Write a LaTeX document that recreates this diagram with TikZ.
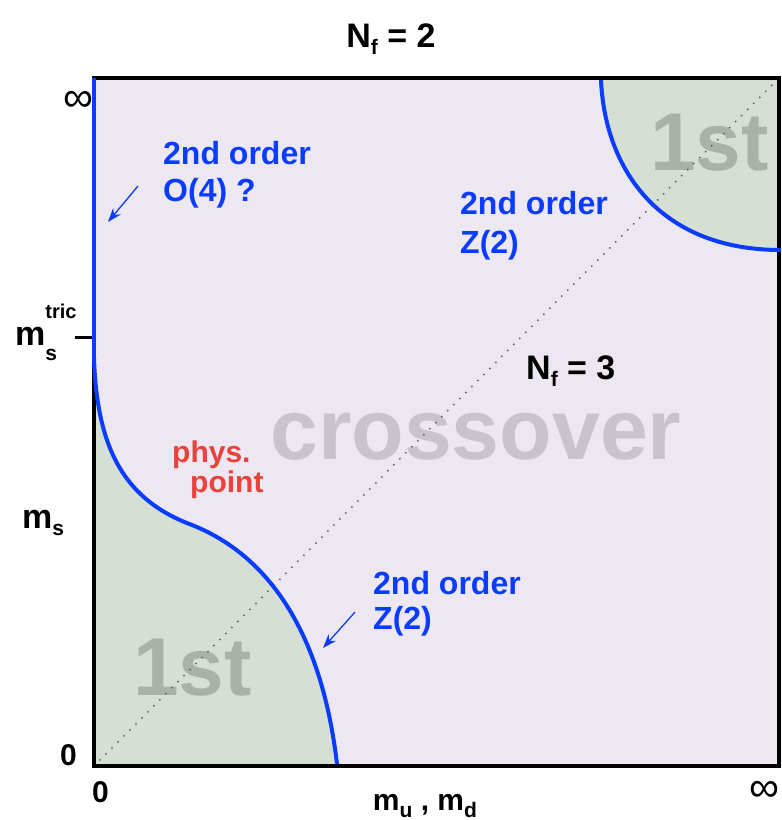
\documentclass[tikz,border=0pt]{standalone}
\usepackage{fontspec}
\setmainfont{Liberation Sans}
\usetikzlibrary{arrows.meta}
\definecolor{lav}{HTML}{ECE7F1}
\definecolor{grn}{HTML}{D5DFD3}
\definecolor{blu}{HTML}{0A3CFF}
\definecolor{rd}{HTML}{E8423A}
\definecolor{crs}{HTML}{C8C4CC}
\definecolor{frst}{HTML}{AAB2A8}
\newcommand\lo[1]{\raisebox{-7pt}{\fontsize{21}{21}\selectfont #1}}
\tikzset{
  lbl/.style  = {inner sep=0pt, font=\fontsize{30}{36}\selectfont\bfseries},
  nf/.style   = {lbl, font=\fontsize{34}{36}\selectfont\bfseries},
  inf/.style  = {lbl, font=\fontsize{42}{42}\selectfont},
  ord/.style  = {lbl, text=blu, align=left, anchor=north west},
  big/.style  = {inner sep=0pt, anchor=base west,
                 font=\fontsize{82}{82}\selectfont\bfseries},
  crit/.style = {line width=4pt, draw=blu},
  arr/.style  = {-{Stealth[length=14pt, width=10pt]}, line width=1.3pt, draw=blu},
  diag/.style = {line width=2pt, draw=black!65, line cap=round,
                 dash pattern=on 0pt off 8.5pt},
}

\begin{document}
\begin{tikzpicture}[x=1pt, y=-1pt]
  \useasboundingbox (0,0) rectangle (782,820);

  % ── corners of the mass plane
  \coordinate (ll)   at (94,766);
  \coordinate (ur)   at (779,78);
  \coordinate (ul)   at (94,78);
  \coordinate (tric) at (94,358);

  % ── regions
  \fill[lav] (ul) rectangle (779,766);
  \fill[grn] (tric) .. controls (97,450) and (125,500) .. (192,525)
                    .. controls (260,552) and (320,620) .. (337,766) -- (ll) -- cycle;
  \fill[grn] (601,78) .. controls (605,170) and (660,250) .. (779,250) -- (ur) -- cycle;

  % ── big region labels
  \node[big, text=frst] (lofirst) at (133,695) {1st};
  \node[big, text=frst] (hifirst) at (650,170) {1st};
  \node[big, text=crs, font=\fontsize{86}{86}\selectfont\bfseries] (cross) at (270,459) {crossover};

  % ── N_f = 3 diagonal
  \draw[diag] (ll) -- (ur);

  % ── frame
  \draw[line width=4pt] (ul) rectangle (779,766);
  \coordinate (mtick) at (94,337);
  \draw[line width=3pt] (mtick) -- ++(-19,0);

  % ── second order lines
  \draw[crit] (ul) -- (tric);
  \draw[crit] (tric) .. controls (97,450) and (125,500) .. (192,525)
                     .. controls (260,552) and (320,620) .. (337,764);
  \draw[crit] (601,80) .. controls (605,170) and (660,250) .. (781,250);

  % ── arrows onto the lines
  \coordinate (ofourtail) at (138,186);
  \coordinate (ofourtip)  at (108,222);
  \coordinate (ztwotail)  at (355,612);
  \coordinate (ztwotip)   at (323,648);
  \draw[arr] (ofourtail) -- (ofourtip);
  \draw[arr] (ztwotail) -- (ztwotip);

  % ── line labels
  \node[ord, font=\fontsize{32}{37}\selectfont\bfseries] (ofour)  at (163,141) {2nd order\\O(4) ?};
  \node[ord, font=\fontsize{32}{39}\selectfont\bfseries] (ztwohi) at (460,191) {2nd order\\Z(2)};
  \node[ord, font=\fontsize{32}{35}\selectfont\bfseries] (ztwolo) at (373,571) {2nd order\\Z(2)};
  \node[lbl, text=rd, anchor=base west] (phys)  at (172,462) {phys.};
  \node[lbl, text=rd, anchor=base west] (point) at (190,492) {point};
  \node[nf, anchor=base west] (nfthree) at (526,379) {N\lo{f} = 3};
  \node[nf, anchor=base] (nftwo) at (391,47) {N\lo{f} = 2};

  % ── axes
  \node[lbl, anchor=base east] (zeroy) at (77,765) {0};
  \node[lbl, anchor=base west] (zerox) at (92,802) {0};
  \node[inf] (infy) at (78,101) {∞};
  \node[inf] (infx) at (764,791) {∞};
  \node[lbl, anchor=base] (mud) at (425,810) {m\lo{u} , m\lo{d}};
  \node[nf, anchor=base west] (ms) at (22,528) {m\lo{s}};
  \node[nf, anchor=base west] (mstric) at (15,345)
    {m\rlap{\raisebox{27pt}{\fontsize{20}{20}\selectfont tric}}\raisebox{-15pt}{\fontsize{21}{21}\selectfont s}};
\end{tikzpicture}
\end{document}
